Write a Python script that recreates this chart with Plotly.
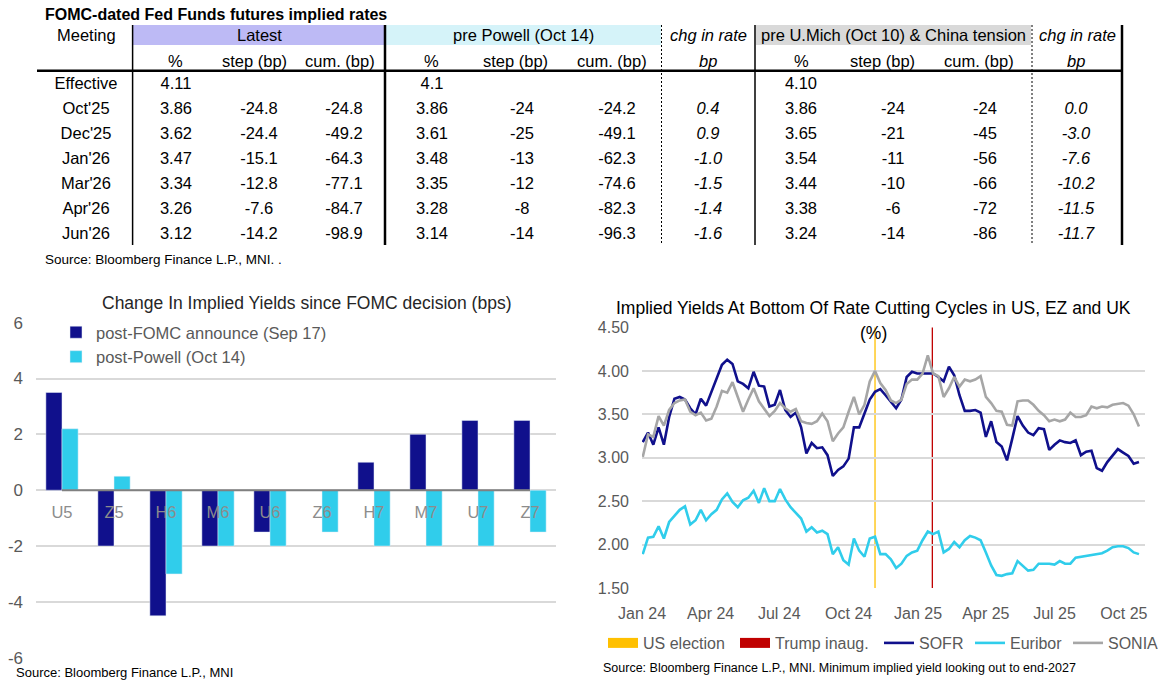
import pandas as pd
import plotly.graph_objects as go

# ---------------- data: table ----------------
table_title = "FOMC-dated Fed Funds futures implied rates"
table_source = "Source: Bloomberg Finance L.P., MNI. ."
meetings = ["Effective", "Oct'25", "Dec'25", "Jan'26", "Mar'26", "Apr'26", "Jun'26"]
latest_pct = ["4.11", "3.86", "3.62", "3.47", "3.34", "3.26", "3.12"]
latest_step = ["", "-24.8", "-24.4", "-15.1", "-12.8", "-7.6", "-14.2"]
latest_cum = ["", "-24.8", "-49.2", "-64.3", "-77.1", "-84.7", "-98.9"]
powell_pct = ["4.1", "3.86", "3.61", "3.48", "3.35", "3.28", "3.14"]
powell_step = ["", "-24", "-25", "-13", "-12", "-8", "-14"]
powell_cum = ["", "-24.2", "-49.1", "-62.3", "-74.6", "-82.3", "-96.3"]
powell_chg = ["", "0.4", "0.9", "-1.0", "-1.5", "-1.4", "-1.6"]
umich_pct = ["4.10", "3.86", "3.65", "3.54", "3.44", "3.38", "3.24"]
umich_step = ["", "-24", "-21", "-11", "-10", "-6", "-14"]
umich_cum = ["", "-24", "-45", "-56", "-66", "-72", "-86"]
umich_chg = ["", "0.0", "-3.0", "-7.6", "-10.2", "-11.5", "-11.7"]
group_headers = ["Latest", "pre Powell (Oct 14)", "chg in rate",
                 "pre U.Mich (Oct 10) & China tension", "chg in rate"]
sub_headers = ["%", "step (bp)", "cum. (bp)", "%", "step (bp)", "cum. (bp)", "bp",
               "%", "step (bp)", "cum. (bp)", "bp"]

# ---------------- data: bar chart ----------------
bar_title = "Change In Implied Yields since FOMC decision (bps)"
bar_source = "Source: Bloomberg Finance L.P., MNI"
contracts = ["U5", "Z5", "H6", "M6", "U6", "Z6", "H7", "M7", "U7", "Z7"]
post_fomc = [3.5, -2, -4.5, -2, -1.5, 0, 1, 2, 2.5, 2.5]
post_powell = [2.2, 0.5, -3, -2, -2, -1.5, -2, -2, -2, -1.5]
bar_names = ["post-FOMC announce (Sep 17)", "post-Powell (Oct 14)"]
bar_yticks = [-6, -4, -2, 0, 2, 4, 6]

# ---------------- data: line chart (weekly readings) ----------------
line_title = "Implied Yields At Bottom Of Rate Cutting Cycles in US, EZ and UK"
line_unit = "(%)"
line_source = "Source: Bloomberg Finance L.P., MNI. Minimum implied yield looking out to end-2027"
series_start = "2024-01-02"
sofr = [3.18, 3.29, 3.15, 3.35, 3.15, 3.47, 3.68, 3.70, 3.67, 3.57, 3.50, 3.68, 3.60, 3.75,
        3.92, 4.07, 4.13, 4.08, 3.88, 3.85, 3.80, 3.99, 3.83, 3.82, 3.59, 3.61, 3.78, 3.55,
        3.47, 3.52, 3.35, 3.05, 3.17, 3.11, 3.12, 3.03, 2.79, 2.86, 2.90, 2.99, 3.35, 3.35,
        3.51, 3.67, 3.76, 3.79, 3.72, 3.65, 3.57, 3.67, 3.93, 3.99, 3.97, 3.97, 3.97, 3.97, 3.93,
        3.88, 4.05, 3.95, 3.72, 3.54, 3.54, 3.55, 3.52, 3.24, 3.42, 3.18, 3.13, 2.97, 3.22,
        3.48, 3.37, 3.29, 3.26, 3.34, 3.33, 3.09, 3.15, 3.20, 3.18, 3.17, 3.20, 3.03, 3.07, 3.08,
        2.88, 2.85, 2.95, 3.03, 3.10, 3.06, 3.02, 2.93, 2.95]
euribor = [1.89, 2.08, 2.09, 2.21, 2.07, 2.26, 2.33, 2.40, 2.44, 2.23, 2.28, 2.40, 2.28, 2.35,
           2.40, 2.52, 2.59, 2.49, 2.43, 2.51, 2.54, 2.62, 2.48, 2.65, 2.50, 2.50, 2.64, 2.52,
           2.43, 2.37, 2.30, 2.15, 2.20, 2.14, 2.16, 2.12, 1.89, 1.97, 1.82, 1.77, 2.07, 1.93,
           1.86, 2.07, 2.09, 1.89, 1.89, 1.83, 1.73, 1.78, 1.87, 1.91, 1.93, 2.05, 2.15, 2.12, 2.15,
           1.91, 1.95, 2.03, 1.97, 2.05, 2.10, 2.08, 2.05, 1.91, 1.76, 1.65, 1.64, 1.66, 1.67,
           1.81, 1.75, 1.70, 1.71, 1.78, 1.78, 1.78, 1.77, 1.81, 1.78, 1.78, 1.85, 1.86, 1.87, 1.88,
           1.89, 1.90, 1.93, 1.97, 1.98, 1.98, 1.96, 1.91, 1.89]
sonia = [3.01, 3.27, 3.24, 3.48, 3.37, 3.55, 3.63, 3.66, 3.67, 3.53, 3.49, 3.52, 3.43, 3.45,
         3.59, 3.77, 3.75, 3.87, 3.70, 3.53, 3.67, 3.80, 3.65, 3.57, 3.48, 3.54, 3.63, 3.57,
         3.53, 3.56, 3.42, 3.40, 3.39, 3.42, 3.51, 3.42, 3.19, 3.28, 3.35, 3.53, 3.70, 3.50,
         3.61, 3.88, 4.00, 3.86, 3.78, 3.66, 3.63, 3.67, 3.85, 3.90, 3.90, 3.97, 4.18, 3.97, 3.94,
         3.70, 3.80, 3.93, 3.82, 3.90, 3.88, 3.90, 3.94, 3.70, 3.63, 3.54, 3.53, 3.38, 3.37,
         3.65, 3.66, 3.66, 3.61, 3.54, 3.49, 3.42, 3.44, 3.42, 3.44, 3.52, 3.47, 3.47, 3.49, 3.59,
         3.57, 3.59, 3.58, 3.61, 3.62, 3.63, 3.60, 3.50, 3.36]
series_names = ["SOFR", "Euribor", "SONIA"]
event_names = ["US election", "Trump inaug."]
event_dates = ["2024-11-05", "2025-01-20"]

# ---------------- styling ----------------
W, H = 1158, 682
NAVY = "#10108C"
CYAN = "#30CDEB"
GREY_LINE = "#A6A6A6"
EVENT_COLORS = ["#FFC000", "#C00000"]
GRID = "#D9D9D9"
TXT = "#595959"
FONT = "Liberation Sans, Arial, sans-serif"


def fx(x):
    return x / W


def fy(y):
    return 1 - y / H


fig = go.Figure()

# ---------------- table (own hidden axes: x in px, y in row index) ----------------
col_x = [176, 259, 344, 432, 522, 617, 708, 801, 893, 985, 1076]
hdr2_x = [175, 254, 340, 431, 515, 612, 708, 801, 882, 979, 1076]
columns = [latest_pct, latest_step, latest_cum, powell_pct, powell_step, powell_cum,
           powell_chg, umich_pct, umich_step, umich_cum, umich_chg]
italic_cols = {6, 10}
rows = list(range(len(meetings)))
tfont = dict(family=FONT, size=16.5, color="#000000")

fig.add_trace(go.Scatter(x=[86] * len(meetings), y=rows, text=meetings, mode="text",
                         textfont=tfont, xaxis="x3", yaxis="y3", hoverinfo="skip",
                         showlegend=False))
for i, col in enumerate(columns):
    txt = [f"<i>{v}</i>" if (i in italic_cols and v) else v for v in col]
    fig.add_trace(go.Scatter(x=[col_x[i]] * len(col), y=rows, text=txt, mode="text",
                             textfont=tfont, xaxis="x3", yaxis="y3", hoverinfo="skip",
                             showlegend=False))

shapes = []
band_y0, band_y1 = -2.4, -1.6
for (x0, x1, c) in [(133, 385, "#BDBAF5"), (386, 661, "#D5F3F9"), (756, 1031, "#D9D9D9")]:
    shapes.append(dict(type="rect", xref="x3", yref="y3", x0=x0, x1=x1, y0=band_y0, y1=band_y1,
                       fillcolor=c, line=dict(width=0), layer="below"))
shapes.append(dict(type="line", xref="x3", yref="y3", x0=37, x1=1123, y0=-0.57, y1=-0.57,
                   line=dict(color="#000", width=2.5)))
for (xv, wv, dash) in [(132.6, 1.5, "solid"), (385, 2.5, "solid"), (661.5, 1, "2px,2px"),
                       (755, 1.5, "solid"), (1032, 1, "2px,2px"), (1122, 2.5, "solid")]:
    shapes.append(dict(type="line", xref="x3", yref="y3", x0=xv, x1=xv, y0=-2.4, y1=6.4,
                       line=dict(color="#000", width=wv, dash=dash)))

annotations = []


def ann(**kw):
    base = dict(showarrow=False, xanchor="center", yanchor="middle")
    base.update(kw)
    annotations.append(base)


ann(xref="x3", yref="y3", x=43, y=-2.84, xanchor="left", text=f"<b>{table_title}</b>",
    font=dict(family=FONT, size=16, color="#000"))
ann(xref="x3", yref="y3", x=86, y=-2, text="Meeting", font=tfont)
grp_x = [259, 523, 708, 893, 1077]
for j, g in enumerate(group_headers):
    t = f"<i>{g}</i>" if g.startswith("chg") else g
    ann(xref="x3", yref="y3", x=grp_x[j], y=-2, text=t, font=tfont)
for j, s in enumerate(sub_headers):
    t = f"<i>{s}</i>" if j in italic_cols else s
    ann(xref="x3", yref="y3", x=hdr2_x[j], y=-0.95, text=t, font=tfont)
ann(xref="x3", yref="y3", x=43, y=6.96, xanchor="left", text=table_source,
    font=dict(family=FONT, size=13.5, color="#000"))

# ---------------- bar chart ----------------
fig.add_trace(go.Bar(x=contracts, y=post_fomc, name=bar_names[0], marker_color=NAVY,
                     xaxis="x", yaxis="y", legend="legend", hoverinfo="skip"))
fig.add_trace(go.Bar(x=contracts, y=post_powell, name=bar_names[1], marker_color=CYAN,
                     xaxis="x", yaxis="y", legend="legend", hoverinfo="skip"))
shapes.append(dict(type="line", xref="x", yref="y", x0=contracts[0], x1=contracts[-1], y0=0,
                   y1=0, line=dict(color="#808080", width=2)))
ann(xref="paper", yref="paper", x=fx(307), y=fy(303), text=bar_title,
    font=dict(family=FONT, size=17.5, color="#262626"))
ann(xref="paper", yref="paper", x=fx(14), y=fy(672), xanchor="left", text=bar_source,
    font=dict(family=FONT, size=13, color="#000"))

# ---------------- line chart ----------------
# one single-entry legend per item so each entry sits where the reference places it
legend_ids = ["legend2", "legend3", "legend4", "legend5", "legend6"]
legend_left = [603, 735, 879, 970, 1068]
dates = pd.date_range(series_start, periods=len(sofr), freq="7D")
for k, (name, color) in enumerate(zip(event_names, EVENT_COLORS)):
    fig.add_trace(go.Scatter(x=[None], y=[None], mode="lines", name=name,
                             line=dict(color=color, width=10), xaxis="x2", yaxis="y2",
                             legend=legend_ids[k], hoverinfo="skip"))
for d, color in zip(event_dates, EVENT_COLORS):
    shapes.append(dict(type="line", xref="x2", yref="y2 domain", x0=d, x1=d, y0=0, y1=1,
                       line=dict(color=color, width=1.3), layer="below"))
for k, (name, vals, color) in enumerate(zip(series_names, [sofr, euribor, sonia],
                                            [NAVY, CYAN, GREY_LINE])):
    fig.add_trace(go.Scatter(x=dates, y=vals, mode="lines", name=name,
                             line=dict(color=color, width=2.6), xaxis="x2", yaxis="y2",
                             legend=legend_ids[k + 2], hoverinfo="skip"))
ann(xref="paper", yref="paper", x=fx(873), y=fy(308), text=line_title,
    font=dict(family=FONT, size=17.5, color="#000"))
ann(xref="paper", yref="paper", x=fx(873), y=fy(333), text=line_unit,
    font=dict(family=FONT, size=17.5, color="#000"))
ann(xref="paper", yref="paper", x=fx(601), y=fy(668), xanchor="left", text=line_source,
    font=dict(family=FONT, size=12.5, color="#000"))

line_legends = {
    lid: dict(x=fx(lx), y=fy(643), xanchor="left", yanchor="middle", orientation="h",
              bgcolor="rgba(0,0,0,0)", font=dict(size=16, color=TXT),
              itemclick=False, itemdoubleclick=False)
    for lid, lx in zip(legend_ids, legend_left)
}

fig.update_layout(
    width=W, height=H, autosize=False,
    margin=dict(l=0, r=0, t=0, b=0, pad=0, autoexpand=False),
    paper_bgcolor="white", plot_bgcolor="rgba(0,0,0,0)",
    font=dict(family=FONT, color=TXT),
    barmode="group", bargap=0.38, bargroupgap=0,
    showlegend=True,
    shapes=shapes, annotations=annotations,
    xaxis=dict(domain=[fx(36), fx(556)], type="category", anchor="free", position=fy(490.7),
               range=[-0.5, len(contracts) - 0.5], showgrid=False, showline=False,
               ticks="", ticklabelstandoff=10, tickfont=dict(size=16.5, color="#8C8C8C"),
               automargin=False, fixedrange=True),
    yaxis=dict(domain=[fy(657.7), fy(322.7)], range=[-6, 6], tickvals=bar_yticks,
               ticktext=[str(v) for v in bar_yticks], showgrid=True, gridcolor=GRID,
               gridwidth=1.5, zeroline=False, showline=False, ticks="",
               ticklabelstandoff=12, tickfont=dict(size=17, color=TXT), anchor="x",
               automargin=False),
    xaxis2=dict(domain=[fx(642), fx(1145)], type="date", range=["2024-01-01", "2025-10-29"],
                tick0="2024-01-01", dtick="M3", tickformat="%b %y", showgrid=False,
                showline=False, zeroline=False, ticks="", ticklabelstandoff=14,
                tickfont=dict(size=16, color=TXT), anchor="y2", automargin=False),
    yaxis2=dict(domain=[fy(588), fy(327.5)], range=[1.5, 4.5], dtick=0.5, tickformat=".2f",
                showgrid=True, gridcolor=GRID, gridwidth=1.5, zeroline=False, showline=False,
                ticks="", ticklabelstandoff=12, tickfont=dict(size=16, color=TXT), anchor="x2",
                automargin=False),
    xaxis3=dict(domain=[0, 1], range=[0, W], visible=False, anchor="y3", automargin=False),
    yaxis3=dict(domain=[fy(270), 1], range=[7.4, -3.4], visible=False, anchor="x3",
                automargin=False),
    legend=dict(x=fx(56), y=fy(315), xanchor="left", yanchor="top", orientation="v",
                bgcolor="rgba(0,0,0,0)", font=dict(size=16.5, color=TXT), tracegroupgap=0,
                itemclick=False, itemdoubleclick=False),
    **line_legends,
)

fig.write_html("out.html", config={"displayModeBar": False},
               post_script="document.body.style.margin='0px';"
                           "document.body.style.overflow='hidden';")
